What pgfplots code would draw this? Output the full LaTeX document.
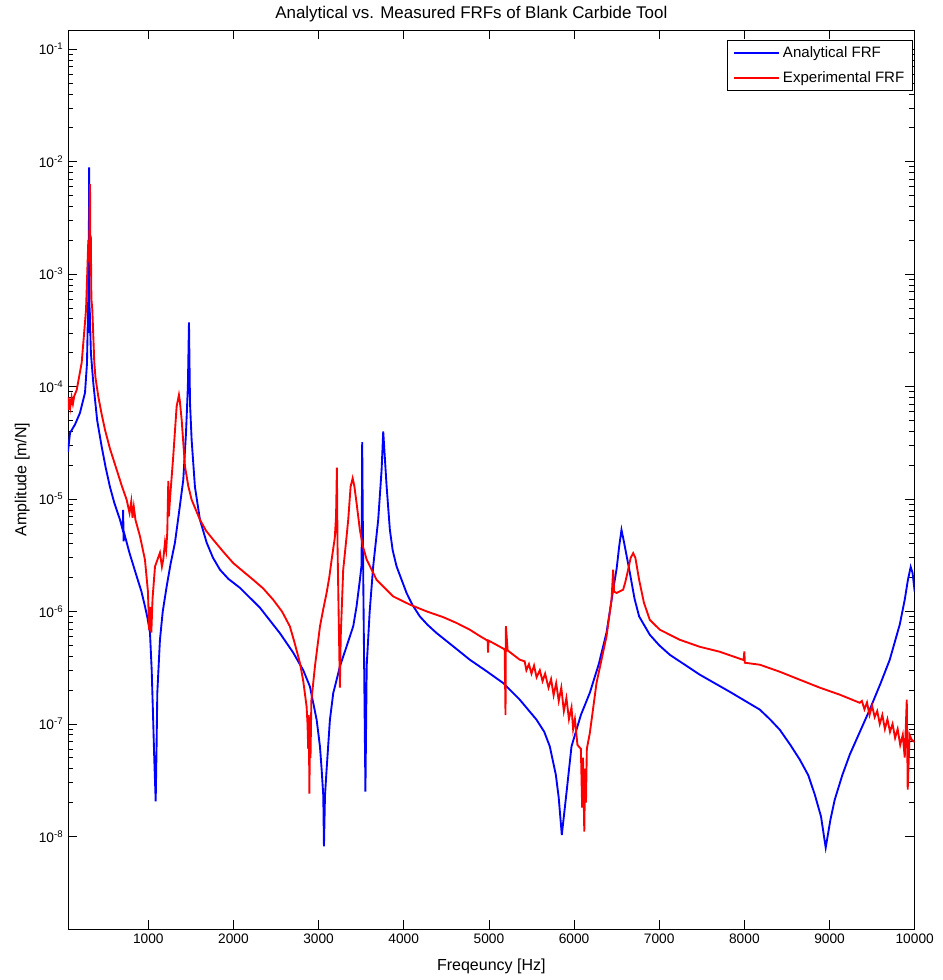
\documentclass[border=0pt]{standalone}
\usepackage{fontspec}
\setmainfont{Liberation Sans}
\usepackage{pgfplots}
\pgfplotsset{compat=1.18}
\begin{document}
\begin{tikzpicture}
\begin{axis}[
  scale only axis, width=635.25pt, height=674.5pt,
  xmin=57, xmax=10000, ymode=log, ymin=1.5e-9, ymax=0.148,
  scaled x ticks=false,
  font=\fontsize{10.3}{12}\selectfont,
  /pgf/number format/assume math mode=true,
  xtick={1000,2000,3000,4000,5000,6000,7000,8000,9000,10000},
  xticklabels={1000,2000,3000,4000,5000,6000,7000,8000,9000,10000},
  ytick={1e-8,1e-7,1e-6,1e-5,1e-4,1e-3,1e-2,1e-1},
  yticklabels={10\textsuperscript{-8},10\textsuperscript{-7},10\textsuperscript{-6},10\textsuperscript{-5},10\textsuperscript{-4},10\textsuperscript{-3},10\textsuperscript{-2},10\textsuperscript{-1}},
  tick align=inside, major tick length=7pt, minor tick length=4pt,
  tick style={black, line width=0.5pt},
  axis line style={black, line width=0.6pt},
  title={Analytical vs. Measured FRFs of Blank Carbide Tool},
  title style={font=\fontsize{12.7}{14}\selectfont, yshift=-3.5pt, xshift=-15pt},
  xlabel={Freqeuncy [Hz]},
  ylabel={Amplitude [m/N]},
  xlabel style={font=\fontsize{12}{14}\selectfont, yshift=-5pt},
  ylabel style={font=\fontsize{12}{14}\selectfont},
  legend cell align=left,
  legend style={at={(0.9976,0.989)}, anchor=north east, draw=black, line width=0.5pt,
    font=\fontsize{11.3}{13}\selectfont, row sep=4.5pt, inner xsep=4pt, inner ysep=3pt},
  legend image code/.code={\draw[#1, line width=1.4pt] (0pt,0pt) -- (34pt,0pt);},
]
\addplot[blue, line width=1.4pt] coordinates {
(57,2.63e-5) (81,3.87e-5) (140,4.6e-5) (198,5.83e-5) (257,8.79e-5) (280,1.6e-4)
(295,6e-4) (302,2e-3) (306,8.9e-3) (309,3e-4) (312,5e-4) (326,2.0e-4) (354,1.08e-4)
(400,5e-5) (453,2.91e-5) (500,1.9e-5) (550,1.28e-5) (600,9.3e-6) (668,6.53e-6) (700,5.3e-6) (705,8.0e-6)
(710,4.2e-6) (716,5.0e-6) (780,3.3e-6) (864,2.05e-6) (920,1.5e-6) (961,1.11e-6) (990,8.8e-7) (1020,6.47e-7)
(1040,3.03e-7) (1055,1.26e-7) (1070,5e-8) (1087,2.05e-8) (1097,6e-8) (1106,1.89e-7)
(1137,5.6e-7) (1170,1.0e-6) (1216,1.67e-6) (1260,2.6e-6) (1313,4.08e-6) (1360,7.5e-6) (1411,1.48e-5) (1443,3.87e-5) (1465,1e-4)
(1478,3.71e-4) (1490,7.16e-5) (1509,3.36e-5) (1548,1.28e-5) (1607,6.53e-6)
(1686,4.08e-6) (1760,3.0e-6) (1842,2.35e-6) (1940,1.95e-6) (2077,1.62e-6) (2311,1.08e-6) (2546,6.4e-7)
(2702,4.3e-7) (2820,3.0e-7) (2898,2.15e-7) (2977,1.09e-7) (3016,6.3e-8) (3036,3.92e-8) (3055,2.3e-8) (3063,8.15e-9)
(3075,2.3e-8) (3094,3.92e-8) (3133,1.09e-7) (3172,1.88e-7) (3212,2.47e-7) (3250,3.24e-7) (3329,4.89e-7) (3407,7.4e-7) (3446,1.11e-6)
(3485,1.91e-6) (3505,2.6e-6) (3512,3.2e-5) (3525,1.8e-6) (3550,2.5e-8) (3565,3.3e-7)
(3600,1.0e-6) (3641,2.51e-6) (3700,6.53e-6) (3740,1.82e-5) (3759,3.98e-5)
(3799,1.29e-5) (3837,5.32e-6) (3870,3.5e-6) (3916,2.51e-6) (4033,1.46e-6) (4100,1.15e-6) (4189,9.03e-7) (4280,7.6e-7)
(4385,6.43e-7) (4580,4.9e-7) (4776,3.72e-7) (4970,2.95e-7) (5167,2.31e-7) (5363,1.64e-7) (5559,1.09e-7)
(5650,8.5e-8) (5715,6.31e-8) (5786,3.53e-8) (5820,2.2e-8) (5856,1.03e-8) (5915,2.6e-8) (5970,6.31e-8) (6080,1.2e-7)
(6185,1.89e-7) (6290,3.4e-7) (6381,6.47e-7) (6420,1.0e-6) (6459,1.56e-6) (6500,2.4e-6) (6530,3.8e-6) (6557,5.32e-6)
(6590,4.0e-6) (6655,2.21e-6) (6710,1.3e-6) (6764,9.03e-7) (6889,6.21e-7) (7000,5.0e-7) (7124,4.12e-7)
(7476,2.74e-7) (7829,1.93e-7) (8181,1.34e-7) (8300,1.1e-7) (8416,8.87e-8) (8540,6.5e-8) (8651,4.81e-8) (8750,3.5e-8)
(8827,2.35e-8) (8900,1.5e-8) (8955,7.94e-9) (9010,1.4e-8) (9061,2.12e-8) (9150,3.5e-8) (9237,5.32e-8) (9472,1.34e-7)
(9600,2.3e-7) (9707,3.72e-7) (9824,7.62e-7) (9883,1.27e-6) (9920,1.9e-6) (9953,2.49e-6) (9975,2.2e-6) (10000,1.5e-6)
};
\addlegendentry{Analytical FRF}
\addplot[red, line width=1.4pt] coordinates {
(57,6.5e-5) (62,8e-5) (68,6.2e-5) (75,7.8e-5) (85,6.6e-5) (100,8e-5) (115,7e-5)
(130,8.2e-5) (160,9.35e-5) (218,1.63e-4) (269,4.81e-4) (296,2.01e-3) (305,1.3e-3)
(312,4e-3) (316,6.3e-3) (320,1.2e-3) (325,2.2e-3) (332,6e-4) (343,4.81e-4)
(366,1.63e-4) (380,1.2e-4) (413,8.15e-5) (450,5.8e-5) (492,4.12e-5) (550,2.8e-5) (629,1.82e-5) (690,1.3e-5) (746,9.85e-6) (780,7.5e-6)
(800,9.5e-6) (815,6.8e-6) (830,8.5e-6) (850,6.5e-6) (903,4.65e-6) (961,2.88e-6)
(996,1.5e-6) (1010,7e-7) (1020,6.9e-7) (1028,1.1e-6) (1036,6.5e-7) (1050,1.3e-6)
(1079,2.51e-6) (1137,3.33e-6) (1160,2.5e-6) (1176,2.9e-6) (1196,4.1e-6)
(1210,3.5e-6) (1223,5.0e-6) (1235,1.45e-5) (1242,7e-6) (1255,1.0e-5) (1293,2.39e-5)
(1333,6.64e-5) (1360,8.43e-5) (1370,7.5e-5) (1392,5.06e-5) (1431,1.95e-5) (1470,1.3e-5)
(1509,9.85e-6) (1607,6.53e-6) (1680,5.2e-6) (1763,4.34e-6) (1880,3.4e-6) (1998,2.69e-6) (2120,2.25e-6) (2233,1.91e-6)
(2350,1.6e-6) (2467,1.27e-6) (2570,1.0e-6) (2663,7.36e-7) (2720,5.2e-7) (2781,3.48e-7) (2820,2.4e-7) (2859,1.43e-7) (2870,1.0e-7)
(2878,6e-8) (2885,1.2e-7) (2892,2.4e-8) (2900,1.1e-7) (2905,5e-8) (2915,1.6e-7)
(2957,3.24e-7) (3016,7.36e-7) (3055,1.05e-6) (3094,1.46e-6) (3125,2.0e-6) (3153,2.88e-6) (3190,4.5e-6)
(3205,7e-6) (3215,1.9e-5) (3222,4e-6) (3235,1e-6) (3250,2.1e-7) (3260,6e-7)
(3289,2.35e-6) (3309,3.3e-6) (3348,6.53e-6) (3376,1.29e-5) (3400,1.53e-5) (3420,1.3e-5) (3446,9.2e-6)
(3485,5.3e-6) (3520,3.8e-6) (3564,2.9e-6) (3681,1.91e-6) (3876,1.36e-6) (4072,1.15e-6) (4270,1.0e-6)
(4463,8.9e-7) (4620,7.9e-7) (4776,6.88e-7) (4900,6.0e-7) (4985,5.5e-7) (4990,4.3e-7) (4995,5.5e-7)
(5050,5.24e-7) (5185,4.6e-7) (5195,1.2e-7) (5200,7.4e-7) (5220,4.5e-7)
(5363,3.72e-7) (5420,3.6e-7) (5440,3.0e-7) (5470,3.4e-7) (5500,2.8e-7)
(5530,3.3e-7) (5560,2.6e-7) (5598,3.0e-7) (5630,2.4e-7) (5660,2.8e-7)
(5700,2.1e-7) (5730,2.5e-7) (5760,1.8e-7) (5790,2.3e-7) (5820,1.6e-7)
(5850,2.1e-7) (5880,1.3e-7) (5910,1.7e-7) (5940,1.1e-7) (5970,1.4e-7)
(5989,9e-8) (6010,1.1e-7) (6040,6.5e-8) (6080,6e-8) (6095,1.8e-8) (6105,5e-8)
(6120,1.1e-8) (6130,4e-8) (6140,2e-8) (6150,6e-8) (6185,8.28e-8) (6264,2.32e-7)
(6381,6.0e-7) (6440,1.27e-6) (6459,2.35e-6) (6470,1.5e-6) (6499,1.46e-6)
(6576,1.56e-6) (6600,1.8e-6) (6635,2.35e-6) (6665,3.0e-6) (6694,3.3e-6) (6720,3.0e-6) (6764,1.91e-6) (6820,1.2e-6) (6889,8.43e-7)
(7007,6.88e-7) (7241,5.6e-7) (7476,4.85e-7) (7711,4.38e-7) (7990,3.7e-7)
(8000,4.4e-7) (8005,3.5e-7) (8181,3.36e-7) (8416,2.91e-7) (8651,2.47e-7)
(8886,2.1e-7) (9120,1.82e-7) (9355,1.54e-7) (9380,1.6e-7) (9410,1.35e-7)
(9440,1.55e-7) (9470,1.2e-7) (9500,1.45e-7) (9530,1.15e-7) (9560,1.3e-7)
(9590,1.0e-7) (9620,1.2e-7) (9650,9e-8) (9680,1.1e-7) (9710,8.5e-8) (9740,1.0e-7)
(9770,7.5e-8) (9800,9e-8) (9830,6.5e-8) (9860,8e-8) (9883,5.01e-8) (9907,1.64e-7)
(9918,2.6e-8) (9940,8e-8) (9965,7.22e-8) (10000,6.9e-8)
};
\addlegendentry{Experimental FRF}
\end{axis}
\path ([xshift=-51pt,yshift=-38.25pt]current axis.south west) rectangle ([xshift=21pt,yshift=22.5pt]current axis.north east);
\end{tikzpicture}
\end{document}
